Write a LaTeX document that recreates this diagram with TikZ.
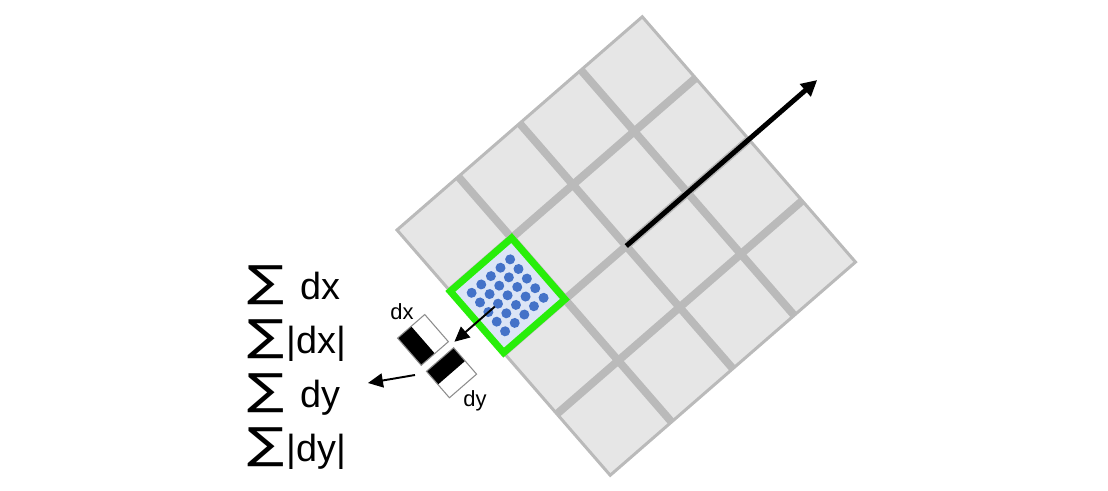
\documentclass[tikz,border=0pt]{standalone}
\usepackage{fontspec}
\setmainfont{Liberation Sans}
\newfontfamily\sumfont{DejaVu Sans}
\usetikzlibrary{arrows.meta,positioning,calc}
\definecolor{cellgray}{RGB}{230,230,230}
\definecolor{linegray}{RGB}{186,186,186}
\definecolor{boxgreen}{RGB}{40,238,10}
\definecolor{dotblue}{RGB}{68,114,200}
\definecolor{paleblue}{RGB}{220,229,246}
\newcommand{\sumsign}{\raisebox{-0.1cm}{\resizebox*{0.74cm}{0.78cm}{\raisebox{\depth}{\sumfont ∑}}}}

\begin{document}
\begin{tikzpicture}[
  sumline/.style={anchor=base west, inner sep=0pt, font=\fontsize{21.5}{21.5}\selectfont},
  haarlabel/.style={inner sep=0pt, font=\fontsize{12.5}{12.5}\selectfont},
  thinarrow/.style={line width=1.1pt, -{Triangle[length=8.5pt,width=8pt]}},
  haarbox/.style={draw=black!45, line width=0.6pt}
]

% Frame
\useasboundingbox (0,0) rectangle (22.16,9.82);

% Rotated 4x4 grid
\begin{scope}[shift={(7.94,5.22)}, rotate=41]
  \fill[cellgray] (0,-6.5) rectangle (6.5,0);
  \foreach \k in {1,2,3} {
    \draw[linegray, line width=4.5pt] (\k*1.625,-6.5) -- (\k*1.625,0);
    \draw[linegray, line width=4.5pt] (0,-\k*1.625) -- (6.5,-\k*1.625);
  }
  \draw[linegray, line width=1.7pt] (0,-6.5) rectangle (6.5,0);

  % Sample cell with its points
  \filldraw[fill=paleblue, draw=boxgreen, line width=4pt]
    (0,-3.25) rectangle (1.625,-1.625);
  \foreach \i in {-2,...,2} {
    \foreach \j in {-2,...,2} {
      \fill[dotblue] (0.8125+\i*0.255, -2.4375+\j*0.255) circle (0.1);
    }
  }

  % Haar responses
  \fill[black] (-1.41,-2.36) rectangle (-1.05,-1.64);
  \draw[haarbox] (-1.41,-2.36) rectangle (-0.69,-1.64);
  \fill[black] (-1.41,-2.87) rectangle (-0.69,-2.52);
  \draw[haarbox] (-1.41,-3.22) rectangle (-0.69,-2.52);

  \coordinate (center) at (3.25,-3.25);
  \coordinate (orient) at (8.31,-3.25);
  \coordinate (sample) at (0.47,-2.44);
  \coordinate (haarin) at (-0.6,-2.44);
\end{scope}

% Labels of the responses
\node[haarlabel] (dxlabel) at (8.04,3.58) {dx};
\node[haarlabel] (dylabel) at (9.5,1.8) {dy};

% Sums
\node[sumline] (sumdx) at (4.94,3.82) {\sumsign\hspace{0.33cm}dx};
\node[sumline] (sumabsdx) at (4.94,2.74) {\sumsign\hspace{0.04cm}|dx|};
\node[sumline] (sumdy) at (4.94,1.66) {\sumsign\hspace{0.33cm}dy};
\node[sumline] (sumabsdy) at (4.94,0.58) {\sumsign\hspace{0.04cm}|dy|};

\coordinate (haarout) at (8.3,2.32);
\coordinate (sumin) at (7.36,2.16);

% Arrows
\draw[line width=2.8pt, -{Triangle[length=9pt,width=9pt]}] (center) -- (orient);
\draw[thinarrow] (sample) -- (haarin);
\draw[thinarrow] (haarout) -- (sumin);

\end{tikzpicture}
\end{document}
